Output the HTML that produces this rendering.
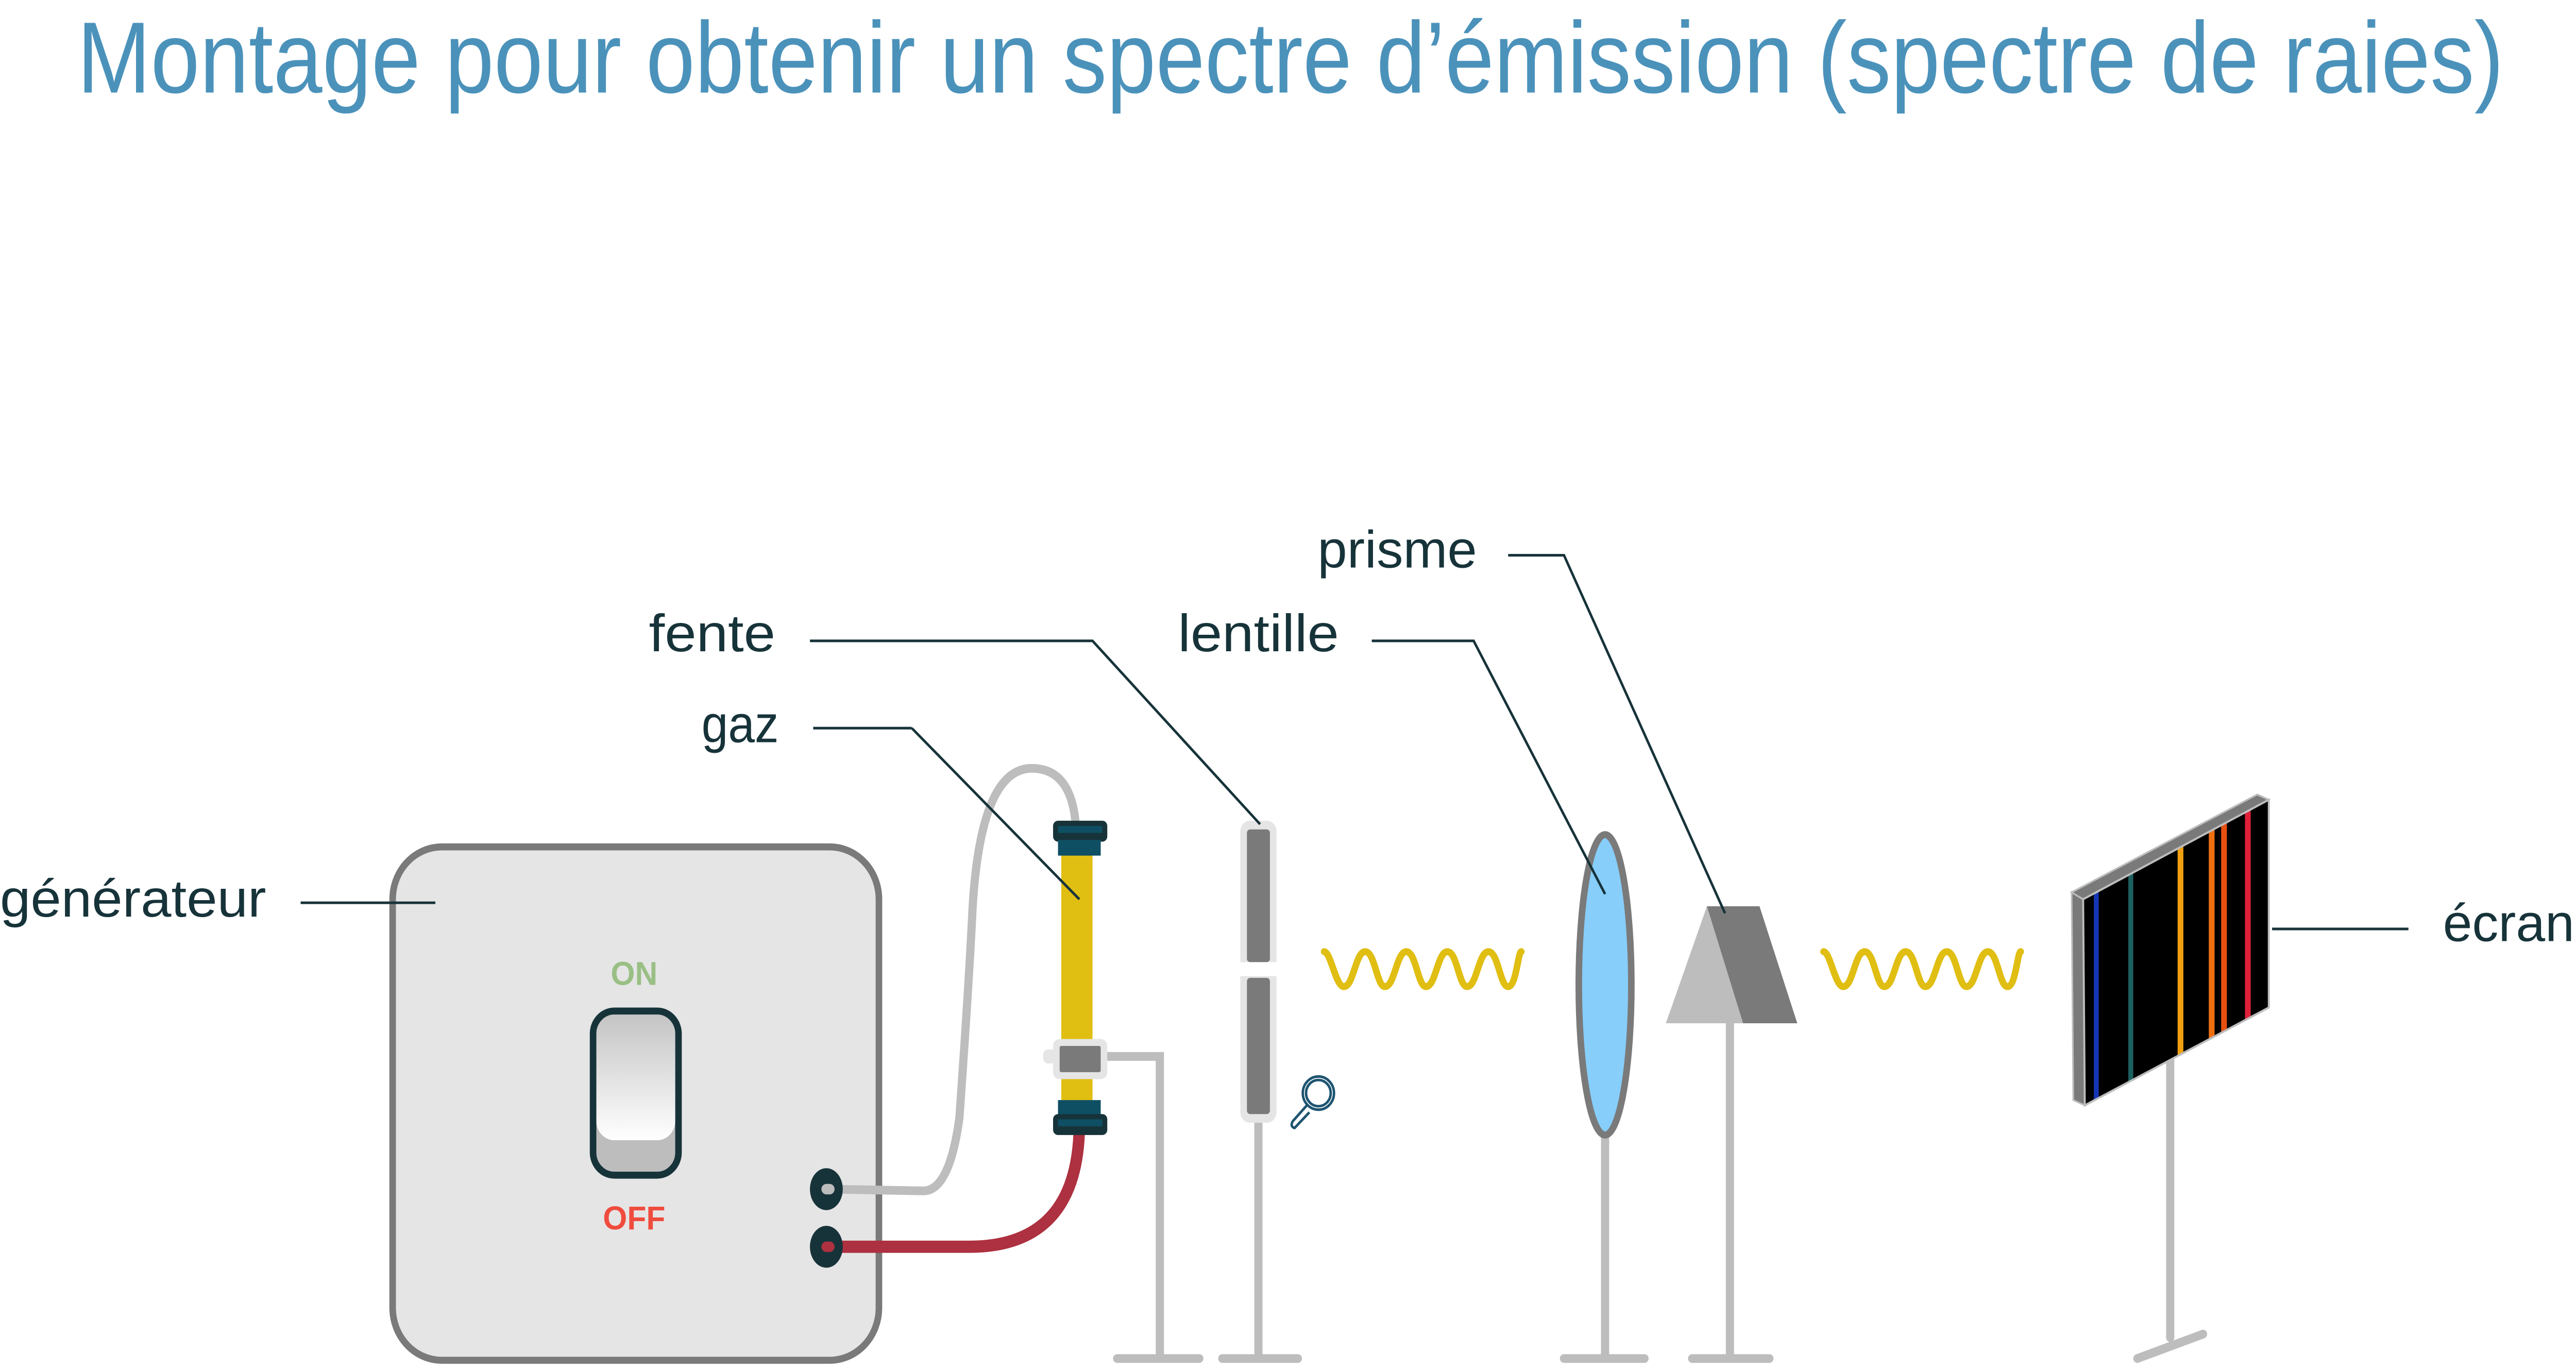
<!DOCTYPE html>
<html><head><meta charset="utf-8"><style>
html,body{margin:0;padding:0;background:#fff;width:100%;height:100%;overflow:hidden;}
svg{display:block;position:fixed;left:0;top:0;width:100vw;height:100vh;}
</style></head><body>
<svg viewBox="0 0 1568 784" preserveAspectRatio="none" xmlns="http://www.w3.org/2000/svg">
<defs>
<linearGradient id="sw" x1="0" y1="0" x2="0" y2="1">
<stop offset="0" stop-color="#c4c4c4"/><stop offset="1" stop-color="#ffffff"/>
</linearGradient>
<clipPath id="scr"><polygon points="1268,515 1381,458 1381,577 1269,633"/></clipPath>
</defs>
<text x="47" y="53" font-family="Liberation Sans, sans-serif" font-size="58" fill="#4b92bb" textLength="1477" lengthAdjust="spacingAndGlyphs">Montage pour obtenir un spectre d’émission (spectre de raies)</text>

<g font-family="Liberation Sans, sans-serif" font-size="30" fill="#17333a">
<text x="0" y="525" textLength="162" lengthAdjust="spacingAndGlyphs">générateur</text>
<text x="395" y="373" textLength="77" lengthAdjust="spacingAndGlyphs">fente</text>
<text x="427" y="425" textLength="47" lengthAdjust="spacingAndGlyphs">gaz</text>
<text x="717" y="373" textLength="98" lengthAdjust="spacingAndGlyphs">lentille</text>
<text x="802" y="325" textLength="97" lengthAdjust="spacingAndGlyphs">prisme</text>
<text x="1487" y="539" textLength="80" lengthAdjust="spacingAndGlyphs">écran</text>
</g>

<g stroke="#bdbdbd" stroke-width="5" fill="none" stroke-linecap="round">
<path d="M674 605 L706 605 L706 778"/>
<line x1="680" y1="778" x2="730" y2="778"/>
<line x1="766" y1="643" x2="766" y2="778"/>
<line x1="744" y1="778" x2="790" y2="778"/>
<line x1="977" y1="650" x2="977" y2="778"/>
<line x1="952" y1="778" x2="1001" y2="778"/>
<line x1="1053" y1="586" x2="1053" y2="778"/>
<line x1="1030" y1="778" x2="1077" y2="778"/>
<line x1="1321" y1="600" x2="1321" y2="766"/>
<line x1="1301" y1="778" x2="1341" y2="764"/>
</g>

<rect x="239" y="485" width="296" height="294" rx="30" fill="#e5e5e5" stroke="#7a7a7a" stroke-width="4"/>
<text x="386" y="564" text-anchor="middle" font-family="Liberation Sans, sans-serif" font-weight="bold" font-size="19" fill="#9abf85">ON</text>
<rect x="361" y="579" width="52" height="94" rx="13" fill="#bdbdbd" stroke="#17333a" stroke-width="4"/>
<rect x="363" y="581" width="48" height="72" rx="11" fill="url(#sw)"/>
<text x="386" y="704" text-anchor="middle" font-family="Liberation Sans, sans-serif" font-weight="bold" font-size="19" fill="#f04c3e">OFF</text>
<line x1="183" y1="517" x2="265" y2="517" stroke="#17333a" stroke-width="1.5"/>

<path d="M505 681 L562 682 Q578 682 584 640 Q590 560 592 520 Q597 440 628 440 Q653 440 655 475" fill="none" stroke="#bdbdbd" stroke-width="5"/>
<path d="M505 714 L590 714 Q656 714 657 645" fill="none" stroke="#ad3140" stroke-width="7"/>
<ellipse cx="503" cy="681" rx="10" ry="12" fill="#17333a"/>
<ellipse cx="503" cy="714" rx="10" ry="12" fill="#17333a"/>
<rect x="500" y="678" width="8" height="6" rx="3" fill="#bdbdbd"/>
<rect x="500" y="711" width="8" height="6" rx="3" fill="#ad3140"/>

<rect x="646" y="484" width="19" height="150" fill="#e0be12"/>
<rect x="641" y="470" width="33" height="12" rx="3" fill="#17333a"/>
<rect x="644" y="473" width="27" height="4" fill="#0f4f63"/>
<rect x="644" y="481" width="26" height="9" fill="#0f4f63"/>
<rect x="644" y="630" width="26" height="9" fill="#0f4f63"/>
<rect x="641" y="638" width="33" height="12" rx="3" fill="#17333a"/>
<rect x="644" y="641" width="27" height="4" fill="#0f4f63"/>
<rect x="635" y="601" width="8" height="8" rx="3" fill="#e5e5e5"/>
<rect x="641" y="595" width="33" height="23" rx="4" fill="#e5e5e5"/>
<rect x="645" y="599" width="25" height="15" rx="1" fill="#7a7a7a"/>
<line x1="555" y1="417" x2="657" y2="515" stroke="#17333a" stroke-width="1.5"/>
<line x1="495" y1="417" x2="555" y2="417" stroke="#17333a" stroke-width="1.5"/>

<rect x="755" y="470" width="22" height="173" rx="6" fill="#e5e5e5"/>
<rect x="759" y="475" width="14" height="76" rx="2" fill="#7a7a7a"/>
<rect x="759" y="560" width="14" height="78" rx="2" fill="#7a7a7a"/>
<rect x="754" y="551" width="24" height="8" fill="#fff"/>
<path d="M493 367 L665 367 L767 472" fill="none" stroke="#17333a" stroke-width="1.5"/>
<g fill="none" stroke="#1e5470" stroke-width="1.5">
<circle cx="802.5" cy="626" r="9.5"/>
<circle cx="802.5" cy="626" r="7.5"/>
<path d="M795.5 633 L787 642 Q785 645 788 646 L797 637" stroke-linejoin="round"/>
</g>

<path d="M806 545 C810 545 813 565 818 565 C824 565 825 545 831 545 C837 545 838 565 843 565 C849 565 850 545 856 545 C862 545 863 565 868 565 C874 565 875 545 881 545 C887 545 888 565 893 565 C899 565 900 545 906 545 C912 545 913 565 918 565 C923 565 924 545 926 545" fill="none" stroke="#e0be12" stroke-width="4" stroke-linecap="round"/>
<path d="M1110 545 C1114 545 1117 565 1122 565 C1128 565 1129 545 1135 545 C1141 545 1142 565 1147 565 C1153 565 1154 545 1160 545 C1166 545 1167 565 1172 565 C1178 565 1179 545 1185 545 C1191 545 1192 565 1197 565 C1203 565 1204 545 1210 545 C1216 545 1217 565 1222 565 C1227 565 1228 545 1230 545" fill="none" stroke="#e0be12" stroke-width="4" stroke-linecap="round"/>

<ellipse cx="977" cy="564" rx="16" ry="86" fill="#87cefa" stroke="#7a7a7a" stroke-width="4"/>
<path d="M835 367 L897 367 L977 512" fill="none" stroke="#17333a" stroke-width="1.5"/>

<polygon points="1039,519 1014,586 1061,586" fill="#bdbdbd"/>
<polygon points="1039,519 1071,519 1094,586 1061,586" fill="#7a7a7a"/>
<path d="M918 318 L952 318 L1050 523" fill="none" stroke="#17333a" stroke-width="1.5"/>

<polygon points="1261,511 1268,515 1269,633 1262,630" fill="#7a7a7a" stroke="#bdbdbd" stroke-width="1"/>
<polygon points="1261,511 1374,455 1381,458 1268,515" fill="#7a7a7a" stroke="#bdbdbd" stroke-width="1"/>
<polygon points="1268,515 1381,458 1381,577 1269,633" fill="#000"/>
<g clip-path="url(#scr)">
<rect x="1274.5" y="450" width="3" height="200" fill="#1536b4"/>
<rect x="1295.5" y="450" width="3" height="200" fill="#1d6060"/>
<rect x="1325.5" y="450" width="3.5" height="200" fill="#f0a010"/>
<rect x="1344.5" y="450" width="3.5" height="200" fill="#f07010"/>
<rect x="1352" y="450" width="3.5" height="200" fill="#e85010"/>
<rect x="1366.5" y="450" width="3.5" height="200" fill="#e0203a"/>
</g>
<polygon points="1268,515 1381,458 1381,577 1269,633" fill="none" stroke="#bdbdbd" stroke-width="1.2"/>
<line x1="1383" y1="532" x2="1466" y2="532" stroke="#17333a" stroke-width="1.5"/>
</svg>
</body></html>
